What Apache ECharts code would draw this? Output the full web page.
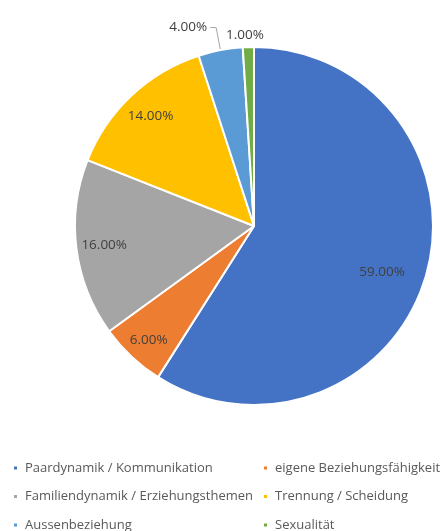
<!DOCTYPE html>
<html>
<head>
<meta charset="utf-8">
<script src="https://cdn.jsdelivr.net/npm/echarts@6/dist/echarts.min.js"></script>
<style>
  html, body { margin: 0; padding: 0; background: #fff; }
  #chart { width: 443px; height: 531px; }
</style>
</head>
<body>
<div id="chart"></div>
<script>
const categories = [
  'Paardynamik / Kommunikation',
  'eigene Beziehungsfähigkeit',
  'Familiendynamik / Erziehungsthemen',
  'Trennung / Scheidung',
  'Aussenbeziehung',
  'Sexualität'
]
const shares = [59, 6, 16, 14, 4, 1]
const colors = ['#4472C4', '#ED7D31', '#A5A5A5', '#FFC000', '#5B9BD5', '#70AD47']

// small slices get their labels outside with a leader line
const outsideIdx = [4, 5]

const font = 'Open Sans'
const center = [254, 226]
const R = 179

const pieData = categories.map((name, i) => ({ name: name, value: shares[i] }))

const pct = (p) => p.value.toFixed(2) + '%'

const legendBase = {
  orient: 'vertical',
  top: 460,
  height: 80,
  padding: 0,
  icon: 'rect',
  itemWidth: 5,
  itemHeight: 5,
  itemGap: 12.5,
  textStyle: { fontFamily: font, fontSize: 13, color: '#595959', lineHeight: 16, padding: [0, 0, 0, 2] }
}

// nudge the two big-slice labels a bit, like the original
const innerNudge = { 0: { dx: -17, dy: 4 }, 1: { dx: -2, dy: 4 } }

const option = {
  animation: false,
  color: colors,
  legend: [
    Object.assign({}, legendBase, { left: 12, data: [categories[0], categories[2], categories[4]] }),
    Object.assign({}, legendBase, { left: 262, data: [categories[1], categories[3], categories[5]] })
  ],
  series: [
    {
      type: 'pie',
      center: center,
      radius: [0, R],
      avoidLabelOverlap: false,
      itemStyle: { borderColor: '#fff', borderWidth: 2 },
      emphasis: { disabled: true },
      label: { show: false },
      labelLine: { show: false },
      labelLayout: (p) => (p.dataIndex === 5 ? { align: 'center' } : {}),
      data: pieData.map((d, i) => {
        if (outsideIdx.indexOf(i) < 0) return d
        return {
          name: d.name,
          value: d.value,
          label: {
            show: true,
            position: 'outside',
            formatter: pct,
            fontFamily: font,
            fontSize: 13.5,
            color: '#404040',
            distanceToLabelLine: 3
          },
          labelLine: i === 4
            ? { show: true, length: 23, length2: 6, lineStyle: { color: '#a6a6a6', width: 1 } }
            : { show: false, length: 12, length2: 0 }
        }
      })
    },
    {
      // transparent copy used only to place inner labels further out
      type: 'pie',
      center: center,
      radius: [117, R],
      silent: true,
      avoidLabelOverlap: false,
      itemStyle: { color: 'rgba(0,0,0,0)' },
      label: {
        show: true,
        position: 'inside',
        formatter: (p) => (outsideIdx.indexOf(p.dataIndex) < 0 ? pct(p) : ''),
        fontFamily: font,
        fontSize: 13.5,
        color: '#404040'
      },
      labelLayout: (p) => innerNudge[p.dataIndex] || {},
      labelLine: { show: false },
      data: pieData
    }
  ]
}

const chart = echarts.init(document.getElementById('chart'))
chart.setOption(option)
</script>
</body>
</html>
